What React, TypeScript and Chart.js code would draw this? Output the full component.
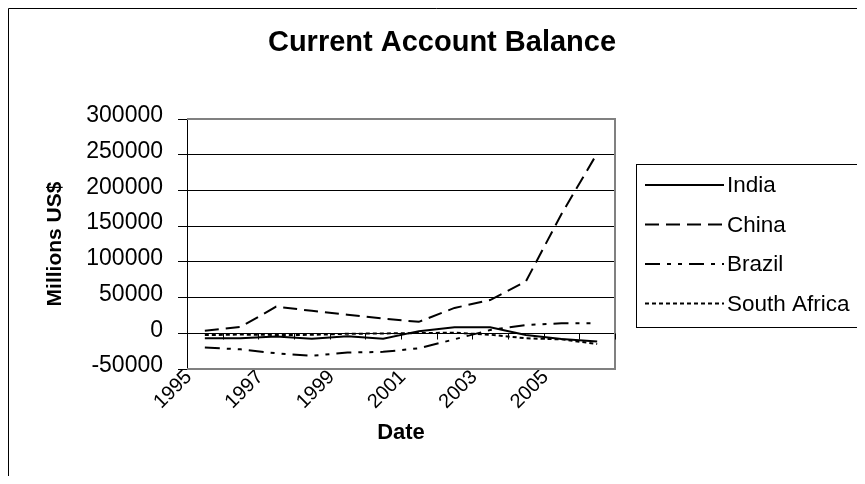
import React, { useEffect, useRef } from "react";
import { Chart, registerables } from "chart.js";

Chart.register(...registerables);

const TITLE = "Current Account Balance";
const X_TITLE = "Date";
const Y_TITLE = "Millions US$";

const years = ["1995", "1996", "1997", "1998", "1999", "2000", "2001", "2002", "2003", "2004", "2005", "2006"];
const india = [-7000, -7000, -4500, -7500, -4000, -7500, 3000, 8500, 8500, -2300, -8000, -11500];
const china = [3700, 8800, 37300, 31500, 26000, 20500, 16000, 35500, 46500, 72500, 167000, 252000];
const brazil = [-20000, -22500, -28000, -31500, -27000, -26000, -21000, -8400, 4500, 11500, 14000, 14000];
const southAfrica = [-2500, -1800, -2300, -2200, -700, -200, 300, 800, -2000, -7000, -8500, -15000];

const Y_MIN = -50000;
const Y_MAX = 300000;
const Y_STEP = 50000;

const FONT = '"Liberation Sans", Arial, Helvetica, sans-serif';
const W = 857;
const H = 468;

const framePlugin = {
  id: "excelFrame",
  beforeDraw(chart: any) {
    const ctx = chart.ctx;
    ctx.save();
    ctx.fillStyle = "#ffffff";
    ctx.fillRect(0, 0, chart.width, chart.height);
    ctx.strokeStyle = "#000000";
    ctx.lineWidth = 1;
    ctx.beginPath();
    ctx.moveTo(0.5, chart.height);
    ctx.lineTo(0.5, 0.5);
    ctx.lineTo(chart.width, 0.5);
    ctx.stroke();
    ctx.restore();
  },
  beforeDatasetsDraw(chart: any) {
    const { ctx, chartArea: a, scales } = chart;
    ctx.save();
    ctx.strokeStyle = "#808080";
    ctx.lineWidth = 2;
    ctx.beginPath();
    ctx.moveTo(a.left, a.top);
    ctx.lineTo(a.right, a.top);
    ctx.lineTo(a.right, a.bottom);
    ctx.lineTo(a.left, a.bottom);
    ctx.stroke();
    // category-axis tick marks on the zero line
    const y0 = Math.round(scales.y.getPixelForValue(0)) + 0.5;
    const n = chart.data.labels.length;
    const w = (a.right - a.left) / n;
    ctx.strokeStyle = "#000000";
    ctx.lineWidth = 1;
    ctx.beginPath();
    for (let k = 1; k <= n; k++) {
      const x = Math.round(a.left + k * w) + 0.5;
      ctx.moveTo(x, y0);
      ctx.lineTo(x, y0 + 6);
    }
    ctx.stroke();
    ctx.restore();
  },
  afterDraw(chart: any) {
    const ctx = chart.ctx;
    ctx.save();
    // title
    ctx.fillStyle = "#000000";
    ctx.font = `bold 29px ${FONT}`;
    ctx.textAlign = "center";
    ctx.textBaseline = "middle";
    ctx.fillText(TITLE, 434, 35);
    // legend
    ctx.strokeStyle = "#000000";
    ctx.lineWidth = 1;
    ctx.strokeRect(628.5, 156.5, 227, 163);
    const rows = [177, 216.5, 256, 295.5];
    ctx.font = `22.5px ${FONT}`;
    ctx.textAlign = "left";
    chart.data.datasets.forEach((ds: any, i: number) => {
      const y = rows[i];
      ctx.save();
      ctx.strokeStyle = ds.borderColor;
      ctx.lineWidth = ds.borderWidth;
      ctx.setLineDash(ds.borderDash || []);
      ctx.beginPath();
      ctx.moveTo(637, y);
      ctx.lineTo(716, y);
      ctx.stroke();
      ctx.restore();
      ctx.fillStyle = "#000000";
      ctx.fillText(ds.label, 719, y + 1);
    });
    ctx.restore();
  },
};

export default function App() {
  const canvasRef = useRef<HTMLCanvasElement | null>(null);

  useEffect(() => {
    if (!canvasRef.current) return;
    Chart.defaults.font.family = FONT;
    const common = {
      borderColor: "#000000",
      backgroundColor: "#000000",
      borderWidth: 2,
      pointRadius: 0,
      tension: 0,
      fill: false,
      borderCapStyle: "butt",
    };
    const chart = new Chart(canvasRef.current, {
      type: "line",
      data: {
        labels: years,
        datasets: [
          { ...common, label: "India", data: india, borderDash: [] },
          { ...common, label: "China", data: china, borderDash: [14, 7] },
          { ...common, label: "Brazil", data: brazil, borderDash: [15, 7, 4, 7, 4, 7] },
          { ...common, label: "South Africa", data: southAfrica, borderDash: [4, 3] },
        ],
      } as any,
      options: {
        responsive: false,
        animation: false,
        layout: { padding: { left: 0, top: 111, right: 250, bottom: 0 } },
        plugins: {
          legend: { display: false },
          title: { display: false },
          tooltip: { enabled: false },
        },
        scales: {
          x: {
            type: "category",
            offset: true,
            grid: { display: false, drawTicks: false },
            border: { display: false },
            afterFit: (s: any) => {
              s.height = 107;
            },
            ticks: {
              autoSkip: false,
              maxRotation: 45,
              minRotation: 45,
              padding: -3.5,
              labelOffset: -16,
              color: "#000000",
              font: { size: 20, family: FONT },
              callback: (_v: any, index: number) => (index % 2 === 0 ? years[index] : ""),
            },
            title: {
              display: true,
              text: X_TITLE,
              color: "#000000",
              font: { size: 22, weight: "bold", family: FONT },
              padding: { top: 0, bottom: 29.8 },
            },
          },
          y: {
            min: Y_MIN,
            max: Y_MAX,
            afterFit: (s: any) => {
              s.width = 179;
            },
            ticks: {
              stepSize: Y_STEP,
              padding: 15,
              labelOffset: -3,
              color: "#000000",
              font: { size: 23, family: FONT },
              callback: (v: any) => String(v),
            },
            grid: {
              color: (c: any) =>
                c.tick && (c.tick.value === Y_MAX || c.tick.value === Y_MIN) ? "rgba(0,0,0,0)" : "#000000",
              tickColor: "#000000",
              tickLength: 9,
              lineWidth: 1,
            },
            border: { display: true, color: "#000000", width: 1 },
            title: {
              display: true,
              text: Y_TITLE,
              color: "#000000",
              font: { size: 21, weight: "bold", family: FONT },
              padding: { top: 34.4, bottom: 0 },
            },
          },
        },
      } as any,
      plugins: [framePlugin],
    });
    return () => chart.destroy();
  }, []);

  return (
    <div>
      <canvas ref={canvasRef} width={W} height={H} style={{ display: "block" }} />
    </div>
  );
}
